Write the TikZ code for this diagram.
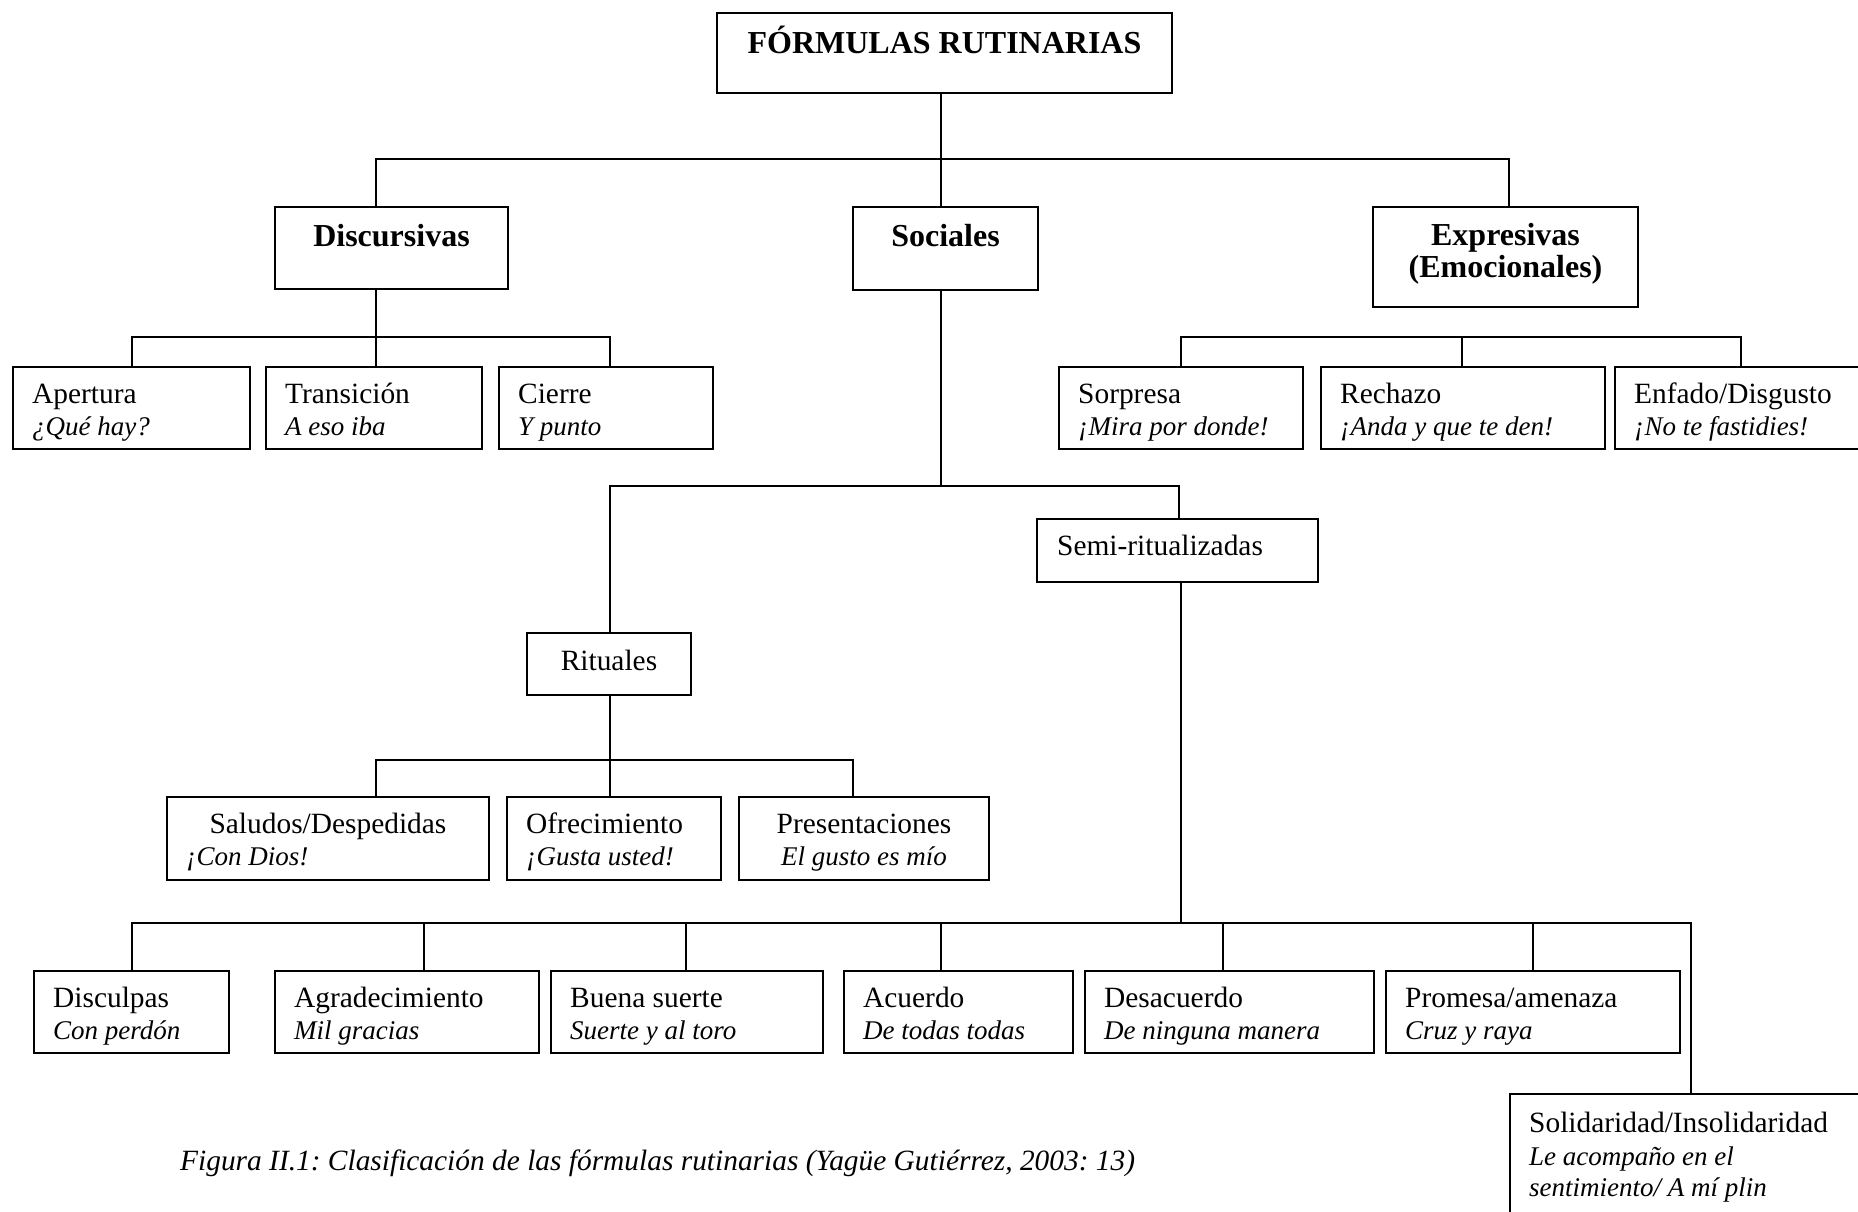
\documentclass[tikz,border=0pt]{standalone}
\usepackage{fontspec}
\setmainfont{Liberation Serif}
\usetikzlibrary{calc}
\frenchspacing

% box with a plain title line and an italic example line below it
\newcommand\leafbox[7]{%
  \node[box, minimum width=#4pt, minimum height=#5pt] (#1) at (#2,#3) {};
  \node[rm, anchor=base west] (#1-t) at ($(#1.north west)+(20,37)$) {#6};
  \node[ex, anchor=base west] (#1-e) at ($(#1.north west)+(20,69)$) {#7};}

\begin{document}
\begin{tikzpicture}[x=1pt, y=-1pt,
  box/.style={draw, line width=2pt, inner sep=0pt, anchor=north west},
  link/.style={line width=2pt},
  rm/.style={inner sep=0pt, font=\fontsize{29.4}{33}\selectfont},
  hd/.style={inner sep=0pt, font=\fontsize{32}{34}\selectfont\bfseries},
  ex/.style={inner sep=0pt, font=\fontsize{27}{31}\selectfont\itshape},
  figcaption/.style={inner sep=0pt, font=\fontsize{29.4}{33}\selectfont\itshape}]

\clip (0,0) rectangle (1858,1211);
\fill[white] (0,0) rectangle (1858,1211);

% ---- root and first level
\node[box, minimum width=455pt, minimum height=80pt] (top) at (716,12) {};
\node[hd, anchor=base] (top-t) at ($(top.north)+(0,41)$) {FÓRMULAS RUTINARIAS};

\node[box, minimum width=233pt, minimum height=82pt] (disc) at (274,206) {};
\node[hd, anchor=base] (disc-t) at ($(disc.north)+(0,40)$) {Discursivas};

\node[box, minimum width=185pt, minimum height=83pt] (soc) at (852,206) {};
\node[hd, anchor=base] (soc-t) at ($(soc.north)+(0,40)$) {Sociales};

\node[box, minimum width=265pt, minimum height=100pt] (expr) at (1372,206) {};
\node[hd, anchor=base] (expr-t) at ($(expr.north)+(0,39)$) {Expresivas};
\node[hd, anchor=base] (expr-u) at ($(expr.north)+(0,71)$) {(Emocionales)};

% ---- discursive and expressive formulas
\leafbox{apert}{12}{366}{237}{82}{Apertura}{¿Qué hay?}
\leafbox{trans}{265}{366}{216}{82}{Transición}{A eso iba}
\leafbox{cierre}{498}{366}{214}{82}{Cierre}{Y punto}
\leafbox{sorp}{1058}{366}{244}{82}{Sorpresa}{¡Mira por donde!}
\leafbox{rech}{1320}{366}{284}{82}{Rechazo}{¡Anda y que te den!}
\leafbox{enf}{1614}{366}{254}{82}{Enfado/Disgusto}{¡No te fastidies!}

% ---- social formulas
\node[box, minimum width=281pt, minimum height=63pt] (semi) at (1036,518) {};
\node[rm, anchor=base west] (semi-t) at ($(semi.north west)+(21,37)$) {Semi-ritualizadas};

\node[box, minimum width=164pt, minimum height=62pt] (rit) at (526,632) {};
\node[rm, anchor=base] (rit-t) at ($(rit.north)+(0,38)$) {Rituales};

\node[box, minimum width=322pt, minimum height=83pt] (salud) at (166,796) {};
\node[rm, anchor=base] (salud-t) at ($(salud.north)+(0,37)$) {Saludos/Despedidas};
\node[ex, anchor=base west] (salud-e) at ($(salud.north west)+(20,69)$) {¡Con Dios!};
\leafbox{ofrec}{506}{796}{214}{83}{Ofrecimiento}{¡Gusta usted!}
\node[box, minimum width=250pt, minimum height=83pt] (pres) at (738,796) {};
\node[rm, anchor=base] (pres-t) at ($(pres.north)+(0,37)$) {Presentaciones};
\node[ex, anchor=base] (pres-e) at ($(pres.north)+(0,69)$) {El gusto es mío};

\leafbox{discul}{33}{970}{195}{82}{Disculpas}{Con perdón}
\leafbox{agrad}{274}{970}{264}{82}{Agradecimiento}{Mil gracias}
\leafbox{buena}{550}{970}{272}{82}{Buena suerte}{Suerte y al toro}
\leafbox{acuer}{843}{970}{229}{82}{Acuerdo}{De todas todas}
\leafbox{desac}{1084}{970}{289}{82}{Desacuerdo}{De ninguna manera}
\leafbox{prom}{1385}{970}{294}{82}{Promesa/amenaza}{Cruz y raya}

\node[box, minimum width=360pt, minimum height=150pt] (solid) at (1509,1093) {};
\node[rm, anchor=base west] (solid-t) at ($(solid.north west)+(20,39)$) {Solidaridad/Insolidaridad};
\node[ex, anchor=base west] (solid-e) at ($(solid.north west)+(20,72)$) {Le acompaño en el};
\node[ex, anchor=base west] (solid-f) at ($(solid.north west)+(20,103)$) {sentimiento/ A mí plin};

\node[figcaption, anchor=base west] (caption) at (180,1170) {Figura II.1: Clasificación de las fórmulas rutinarias (Yagüe Gutiérrez, 2003: 13)};

% ---- junction points of the connector bars
\coordinate (jD) at (376,159);  \coordinate (jS) at (941,159);  \coordinate (jE) at (1509,159);
\coordinate (d1) at (132,337);  \coordinate (d2) at (376,337);  \coordinate (d3) at (610,337);
\coordinate (e1) at (1181,337); \coordinate (e2) at (1462,337); \coordinate (e3) at (1741,337);
\coordinate (s1) at (610,486);  \coordinate (s2) at (941,486);  \coordinate (s3) at (1179,486);
\coordinate (r1) at (376,760);  \coordinate (r2) at (610,760);  \coordinate (r3) at (853,760);
\coordinate (m1) at (132,923);  \coordinate (m2) at (424,923);  \coordinate (m3) at (686,923);
\coordinate (m4) at (941,923);  \coordinate (m5) at (1181,923); \coordinate (m6) at (1223,923);
\coordinate (m7) at (1533,923); \coordinate (m8) at (1691,923);

% ---- connectors
\draw[link] (top.south -| jS) -- (jS |- soc.north);
\draw[link] (jD |- disc.north) -- (jD) -- (jE) -- (jE |- expr.north);

\draw[link] (disc.south -| d2) -- (d2 |- trans.north);
\draw[link] (d1 |- apert.north) -- (d1) -- (d3) -- (d3 |- cierre.north);

\draw[link] (e1 |- sorp.north) -- (e1) -- (e3) -- (e3 |- enf.north);
\draw[link] (e2) -- (e2 |- rech.north);

\draw[link] (soc.south -| s2) -- (s2);
\draw[link] (s1 |- rit.north) -- (s1) -- (s3) -- (s3 |- semi.north);

\draw[link] (rit.south -| r2) -- (r2 |- ofrec.north);
\draw[link] (r1 |- salud.north) -- (r1) -- (r3) -- (r3 |- pres.north);

\draw[link] (semi.south -| m5) -- (m5);
\draw[link] (m1 |- discul.north) -- (m1) -- (m8) -- (m8 |- solid.north);
\draw[link] (m2) -- (m2 |- agrad.north);
\draw[link] (m3) -- (m3 |- buena.north);
\draw[link] (m4) -- (m4 |- acuer.north);
\draw[link] (m6) -- (m6 |- desac.north);
\draw[link] (m7) -- (m7 |- prom.north);
\end{tikzpicture}
\end{document}
